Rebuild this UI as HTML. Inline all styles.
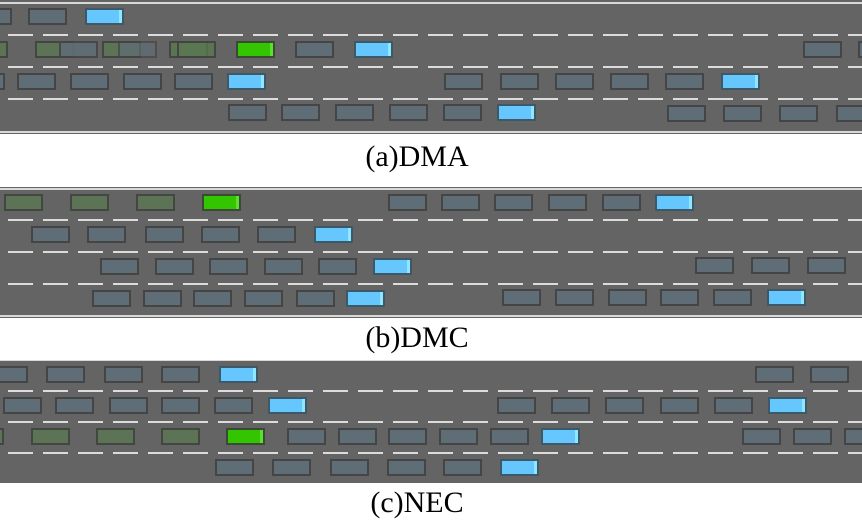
<!DOCTYPE html>
<html><head><meta charset="utf-8"><style>
*{margin:0;padding:0;box-sizing:border-box}
body{width:862px;height:529px;background:#fff;position:relative;overflow:hidden;font-family:"Liberation Serif",serif}
.road{position:absolute;left:0;width:862px;background:#646464}
.sl{position:absolute;left:0;width:862px;height:2px;background:#d8d8d8}
.dl{position:absolute;left:0;width:862px;height:2px;background:repeating-linear-gradient(90deg,transparent 0 8px,#dcdcdc 8px 33px,transparent 33px 35px)}
.c{position:absolute;width:39px;height:17px;background:#5f6d76;border:2px solid #454545}
.b{background:#66c7ff;border-color:#3d5866;box-shadow:inset -3px 0 0 #8ee6ff}
.g{background:#33c600;border-color:#3a4a34;box-shadow:inset -3px 0 0 #5be030}
.h{background:rgba(90,120,80,.75);border-color:rgba(60,60,60,.8)}
.cap{position:absolute;left:-14px;width:862px;text-align:center;font-size:30px;line-height:30px;color:#000}
</style></head><body>

<!-- (a) -->
<div class="road" style="top:0;height:134px"></div>
<div class="sl" style="top:2px"></div>
<div class="dl" style="top:34px"></div>
<div class="dl" style="top:66px"></div>
<div class="dl" style="top:98px"></div>
<div class="sl" style="top:131px"></div>
<div class="c" style="left:-27px;top:8px"></div>
<div class="c" style="left:28px;top:8px"></div>
<div class="c b" style="left:85px;top:8px"></div>
<div class="c h" style="left:-31px;top:41px"></div>
<div class="c h" style="left:35px;top:41px"></div>
<div class="c" style="left:59px;top:41px;opacity:.9"></div>
<div class="c h" style="left:102px;top:41px"></div>
<div class="c" style="left:118px;top:41px;opacity:.7"></div>
<div class="c h" style="left:169px;top:41px"></div>
<div class="c h" style="left:177px;top:41px"></div>
<div class="c g" style="left:236px;top:41px"></div>
<div class="c" style="left:295px;top:41px"></div>
<div class="c b" style="left:354px;top:41px"></div>
<div class="c" style="left:803px;top:41px"></div>
<div class="c" style="left:858px;top:41px"></div>
<div class="c" style="left:-34px;top:73px"></div>
<div class="c" style="left:17px;top:73px"></div>
<div class="c" style="left:70px;top:73px"></div>
<div class="c" style="left:123px;top:73px"></div>
<div class="c" style="left:174px;top:73px"></div>
<div class="c b" style="left:227px;top:73px"></div>
<div class="c" style="left:444px;top:73px"></div>
<div class="c" style="left:500px;top:73px"></div>
<div class="c" style="left:555px;top:73px"></div>
<div class="c" style="left:610px;top:73px"></div>
<div class="c" style="left:665px;top:73px"></div>
<div class="c b" style="left:721px;top:73px"></div>
<div class="c" style="left:228px;top:104px"></div>
<div class="c" style="left:281px;top:104px"></div>
<div class="c" style="left:335px;top:104px"></div>
<div class="c" style="left:389px;top:104px"></div>
<div class="c" style="left:443px;top:104px"></div>
<div class="c b" style="left:497px;top:104px"></div>
<div class="c" style="left:667px;top:105px"></div>
<div class="c" style="left:723px;top:105px"></div>
<div class="c" style="left:779px;top:105px"></div>
<div class="c" style="left:836px;top:105px"></div>
<div class="cap" style="top:142px">(a)DMA</div>

<!-- (b) -->
<div class="road" style="top:187px;height:131px"></div>
<div class="sl" style="top:188px"></div>
<div class="dl" style="top:219px"></div>
<div class="dl" style="top:251px"></div>
<div class="dl" style="top:283px"></div>
<div class="sl" style="top:315px"></div>
<div class="c h" style="left:4px;top:194px"></div>
<div class="c h" style="left:70px;top:194px"></div>
<div class="c h" style="left:136px;top:194px"></div>
<div class="c g" style="left:202px;top:194px"></div>
<div class="c" style="left:388px;top:194px"></div>
<div class="c" style="left:441px;top:194px"></div>
<div class="c" style="left:494px;top:194px"></div>
<div class="c" style="left:548px;top:194px"></div>
<div class="c" style="left:602px;top:194px"></div>
<div class="c b" style="left:655px;top:194px"></div>
<div class="c" style="left:31px;top:226px"></div>
<div class="c" style="left:87px;top:226px"></div>
<div class="c" style="left:145px;top:226px"></div>
<div class="c" style="left:201px;top:226px"></div>
<div class="c" style="left:257px;top:226px"></div>
<div class="c b" style="left:314px;top:226px"></div>
<div class="c" style="left:100px;top:258px"></div>
<div class="c" style="left:155px;top:258px"></div>
<div class="c" style="left:209px;top:258px"></div>
<div class="c" style="left:264px;top:258px"></div>
<div class="c" style="left:318px;top:258px"></div>
<div class="c b" style="left:373px;top:258px"></div>
<div class="c" style="left:695px;top:257px"></div>
<div class="c" style="left:751px;top:257px"></div>
<div class="c" style="left:807px;top:257px"></div>
<div class="c" style="left:92px;top:290px"></div>
<div class="c" style="left:143px;top:290px"></div>
<div class="c" style="left:193px;top:290px"></div>
<div class="c" style="left:244px;top:290px"></div>
<div class="c" style="left:296px;top:290px"></div>
<div class="c b" style="left:346px;top:290px"></div>
<div class="c" style="left:502px;top:289px"></div>
<div class="c" style="left:555px;top:289px"></div>
<div class="c" style="left:608px;top:289px"></div>
<div class="c" style="left:660px;top:289px"></div>
<div class="c" style="left:713px;top:289px"></div>
<div class="c b" style="left:767px;top:289px"></div>
<div class="cap" style="top:323px">(b)DMC</div>

<!-- (c) -->
<div class="road" style="top:360px;height:123px"></div>
<div class="sl" style="top:360px;height:1px"></div>
<div class="dl" style="top:390px"></div>
<div class="dl" style="top:421px"></div>
<div class="dl" style="top:452px"></div>
<div class="c" style="left:-11px;top:366px"></div>
<div class="c" style="left:46px;top:366px"></div>
<div class="c" style="left:104px;top:366px"></div>
<div class="c" style="left:161px;top:366px"></div>
<div class="c b" style="left:219px;top:366px"></div>
<div class="c" style="left:755px;top:366px"></div>
<div class="c" style="left:810px;top:366px"></div>
<div class="c" style="left:3px;top:397px"></div>
<div class="c" style="left:55px;top:397px"></div>
<div class="c" style="left:109px;top:397px"></div>
<div class="c" style="left:161px;top:397px"></div>
<div class="c" style="left:214px;top:397px"></div>
<div class="c b" style="left:268px;top:397px"></div>
<div class="c" style="left:497px;top:397px"></div>
<div class="c" style="left:551px;top:397px"></div>
<div class="c" style="left:605px;top:397px"></div>
<div class="c" style="left:660px;top:397px"></div>
<div class="c" style="left:714px;top:397px"></div>
<div class="c b" style="left:768px;top:397px"></div>
<div class="c h" style="left:-35px;top:428px"></div>
<div class="c h" style="left:31px;top:428px"></div>
<div class="c h" style="left:96px;top:428px"></div>
<div class="c h" style="left:161px;top:428px"></div>
<div class="c g" style="left:226px;top:428px"></div>
<div class="c" style="left:287px;top:428px"></div>
<div class="c" style="left:338px;top:428px"></div>
<div class="c" style="left:388px;top:428px"></div>
<div class="c" style="left:439px;top:428px"></div>
<div class="c" style="left:490px;top:428px"></div>
<div class="c b" style="left:541px;top:428px"></div>
<div class="c" style="left:742px;top:428px"></div>
<div class="c" style="left:793px;top:428px"></div>
<div class="c" style="left:844px;top:428px"></div>
<div class="c" style="left:215px;top:459px"></div>
<div class="c" style="left:272px;top:459px"></div>
<div class="c" style="left:330px;top:459px"></div>
<div class="c" style="left:387px;top:459px"></div>
<div class="c" style="left:443px;top:459px"></div>
<div class="c b" style="left:500px;top:459px"></div>
<div class="cap" style="top:488px">(c)NEC</div>

</body></html>
